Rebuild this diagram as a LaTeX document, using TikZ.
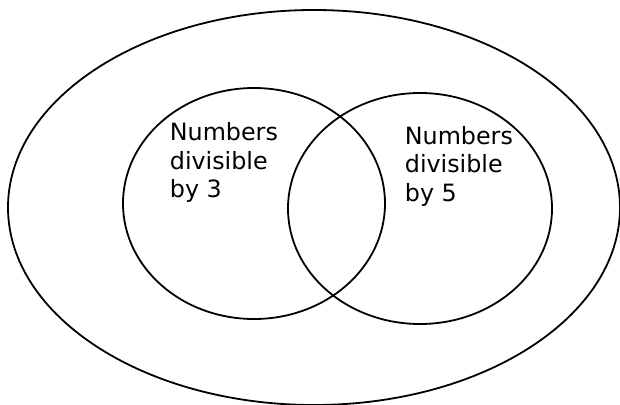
\documentclass[tikz,border=0pt]{standalone}
\usepackage{fontspec}
\setmainfont{DejaVu Sans}
\definecolor{inkblack}{HTML}{000000}
\usetikzlibrary{positioning}

\begin{document}
\begin{tikzpicture}[x=1pt,y=-1pt,line width=1.8pt]
    \useasboundingbox (0,0) rectangle (620,404);
    \draw[inkblack] (314,207.5) ellipse (306 and 197.5);
    \draw[inkblack] (254,203.5) ellipse (131 and 115.5);
    \draw[inkblack] (420,208.5) ellipse (132 and 115.5);
    \node[anchor=north west,inner sep=0,align=left,font=\fontsize{23.8}{28.5}\selectfont] (three) at (169,122) {Numbers\\divisible\\by 3};
    \node[anchor=north west,inner sep=0,align=left,font=\fontsize{23.8}{28.5}\selectfont] (five) at (404,125.3) {Numbers\\divisible\\by 5};
\end{tikzpicture}
\end{document}
